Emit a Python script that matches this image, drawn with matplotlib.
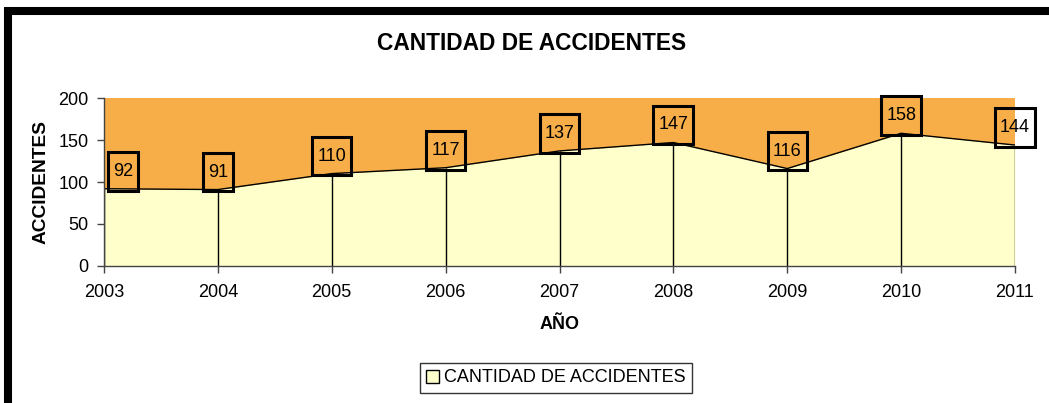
import matplotlib
matplotlib.use("Agg")
import matplotlib.pyplot as plt
from matplotlib.path import Path
from matplotlib.patches import Rectangle

plt.rcParams['font.family'] = ['Liberation Sans', 'DejaVu Sans']

years = [2003, 2004, 2005, 2006, 2007, 2008, 2009, 2010, 2011]
accidents = [92, 91, 110, 117, 137, 147, 116, 158, 144]
yticks = [0, 50, 100, 150, 200]
title = "CANTIDAD DE ACCIDENTES"
series_name = "CANTIDAD DE ACCIDENTES"
xlabel = "AÑO"
ylabel = "ACCIDENTES"

ORANGE = "#F7AE48"
YELLOW = "#FFFFCC"


class RectPad:
    """Square box with separate horizontal/vertical padding."""
    def __init__(self, padx=0.28, pady=0.5):
        self.padx = padx
        self.pady = pady

    def __call__(self, x0, y0, width, height, mutation_size):
        px = self.padx * mutation_size
        py = self.pady * mutation_size
        x0 -= px
        y0 -= py
        x1 = x0 + width + 2 * px
        y1 = y0 + height + 2 * py
        return Path([(x0, y0), (x1, y0), (x1, y1), (x0, y1), (x0, y0)], closed=True)


fig = plt.figure(figsize=(10.49, 4.03), dpi=100)
ax = fig.add_axes([104 / 1049, 1 - 266 / 403, (1015 - 104) / 1049, (266 - 98) / 403])
ax.set_facecolor(ORANGE)

ax.fill_between(years, 0, accidents, color=YELLOW, zorder=1, label=series_name,
                edgecolor='black', linewidth=0)
ax.plot(years, accidents, color='black', linewidth=1, zorder=2)
ax.vlines(years, 0, accidents, color='black', linewidth=1, zorder=2)

ax.set_xlim(years[0], years[-1])
ax.set_ylim(0, 200)
ax.set_xticks(years)
ax.set_xticklabels([str(y) for y in years])
ax.set_yticks(yticks)

for s in ['top', 'right']:
    ax.spines[s].set_visible(False)
for s in ['left', 'bottom']:
    ax.spines[s].set_color('#444444')
    ax.spines[s].set_linewidth(1)
ax.tick_params(axis='both', direction='out', length=5, width=1, color='#444444',
               labelsize=13)
ax.tick_params(axis='x', pad=8)
ax.tick_params(axis='y', pad=6)

for i, (x, v) in enumerate(zip(years, accidents)):
    if i == 0:
        ha, dx = 'left', 6.5
    else:
        ha, dx = 'center', 0
    ax.annotate(str(v), xy=(x, v), xytext=(dx, 6.5), textcoords='offset points',
                ha=ha, va='bottom', fontsize=13, zorder=5, annotation_clip=False,
                bbox=dict(boxstyle=RectPad(0.28, 0.6), facecolor='none',
                          edgecolor='black', linewidth=2.2))

fig.text(532 / 1049, 1 - 44 / 403, title, fontsize=16.4, fontweight='bold',
         ha='center', va='center')
ax.set_ylabel(ylabel, fontsize=13.8, fontweight='bold')
ax.yaxis.set_label_coords(-0.060, 0.5)
ax.set_xlabel(xlabel, fontsize=13, fontweight='bold')
ax.xaxis.set_label_coords(0.5, -0.298)

leg = fig.legend(loc='center', bbox_to_anchor=(556 / 1049, 1 - 378 / 403),
                 fontsize=13, frameon=True, fancybox=False, edgecolor='black',
                 handlelength=0.7, handleheight=0.7, handletextpad=0.3,
                 borderpad=0.35, borderaxespad=0)
leg.get_frame().set_linewidth(1)
for h in leg.legend_handles:
    h.set_edgecolor('black')
    h.set_linewidth(1)

border = Rectangle((8 / 1049, -3 / 403), 1.1, 1 - 11 / 403 + 3 / 403,
                   transform=fig.transFigure, fill=False, edgecolor='black',
                   linewidth=5.8, zorder=10)
fig.patches.append(border)

fig.savefig('out.png', dpi=100, facecolor='white')
